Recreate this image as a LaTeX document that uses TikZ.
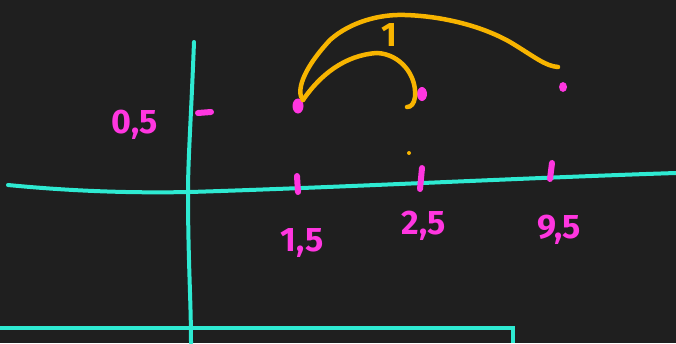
\documentclass[tikz,border=0pt]{standalone}
\usepackage{fontspec}
\setmainfont{Fira Sans}
\definecolor{bg}{HTML}{1F1F1F}
\definecolor{cy}{HTML}{2EEAD2}
\definecolor{mg}{HTML}{FF36E0}
\definecolor{og}{HTML}{F7B400}
\begin{document}
\begin{tikzpicture}[x=1pt,y=-1pt,
  axis/.style={cy,line width=4pt,line cap=round},
  tick/.style={mg,line width=6pt,line cap=round},
  arc/.style={og,line width=4.5pt,line cap=round},
  lbl/.style={mg,font=\fontsize{34}{34}\selectfont\bfseries,inner sep=0pt},
  dotm/.style={mg,fill=mg,draw=none}]
\fill[bg] (0,0) rectangle (676,343);
\useasboundingbox (0,0) rectangle (676,343);
% axes
\draw[axis] (194,42) .. controls (191,120) and (188,160) .. (188,192) .. controls (188,260) and (191,300) .. (191,343);
\draw[axis] (8,185) .. controls (80,192) and (140,193) .. (190,192) .. controls (350,187) and (520,178) .. (676,173);
\draw[axis,line cap=butt] (0,328) -- (513,328) -- (513,343);
% ticks
\coordinate (t1a) at (297,176); \coordinate (t1b) at (298,192);
\coordinate (t2a) at (422,168); \coordinate (t2b) at (420,189);
\coordinate (t3a) at (552,163); \coordinate (t3b) at (550,179);
\draw[tick] (t1a) -- (t1b);
\draw[tick] (t2a) -- (t2b);
\draw[tick] (t3a) -- (t3b);
\coordinate (ya) at (198,113); \coordinate (yb) at (211,112);
\draw[tick] (ya) -- (yb);
% labels
\node[lbl] (l05) at (135,125) {0,5};
\node[lbl] (l15) at (302,243) {1,5};
\node[lbl] (l25) at (424,226) {2,5};
\node[lbl] (l35) at (559,230) {9,5};
% dots
\fill[dotm] (298,106) ellipse (5.5 and 7.5);
\fill[dotm] (422,94) ellipse (5 and 7);
\fill[dotm] (563,87) ellipse (4 and 5);
\fill[og] (409,153) circle (2);
% arcs
\coordinate (s) at (303,100);
\draw[arc] (s) .. controls (296,92) and (302,70) .. (330,40) .. controls (350,22) and (380,14) .. (405,15) .. controls (440,16) and (480,25) .. (510,42) .. controls (535,57) and (545,66) .. (558,67);
\draw[arc] (s) .. controls (320,75) and (345,55) .. (377,53) .. controls (400,54) and (417,75) .. (415,97) .. controls (414,104) and (411,107) .. (407,107);
\node[og,font=\fontsize{34}{34}\selectfont\bfseries,inner sep=0pt] (one) at (389,35) {1};
\end{tikzpicture}
\end{document}
